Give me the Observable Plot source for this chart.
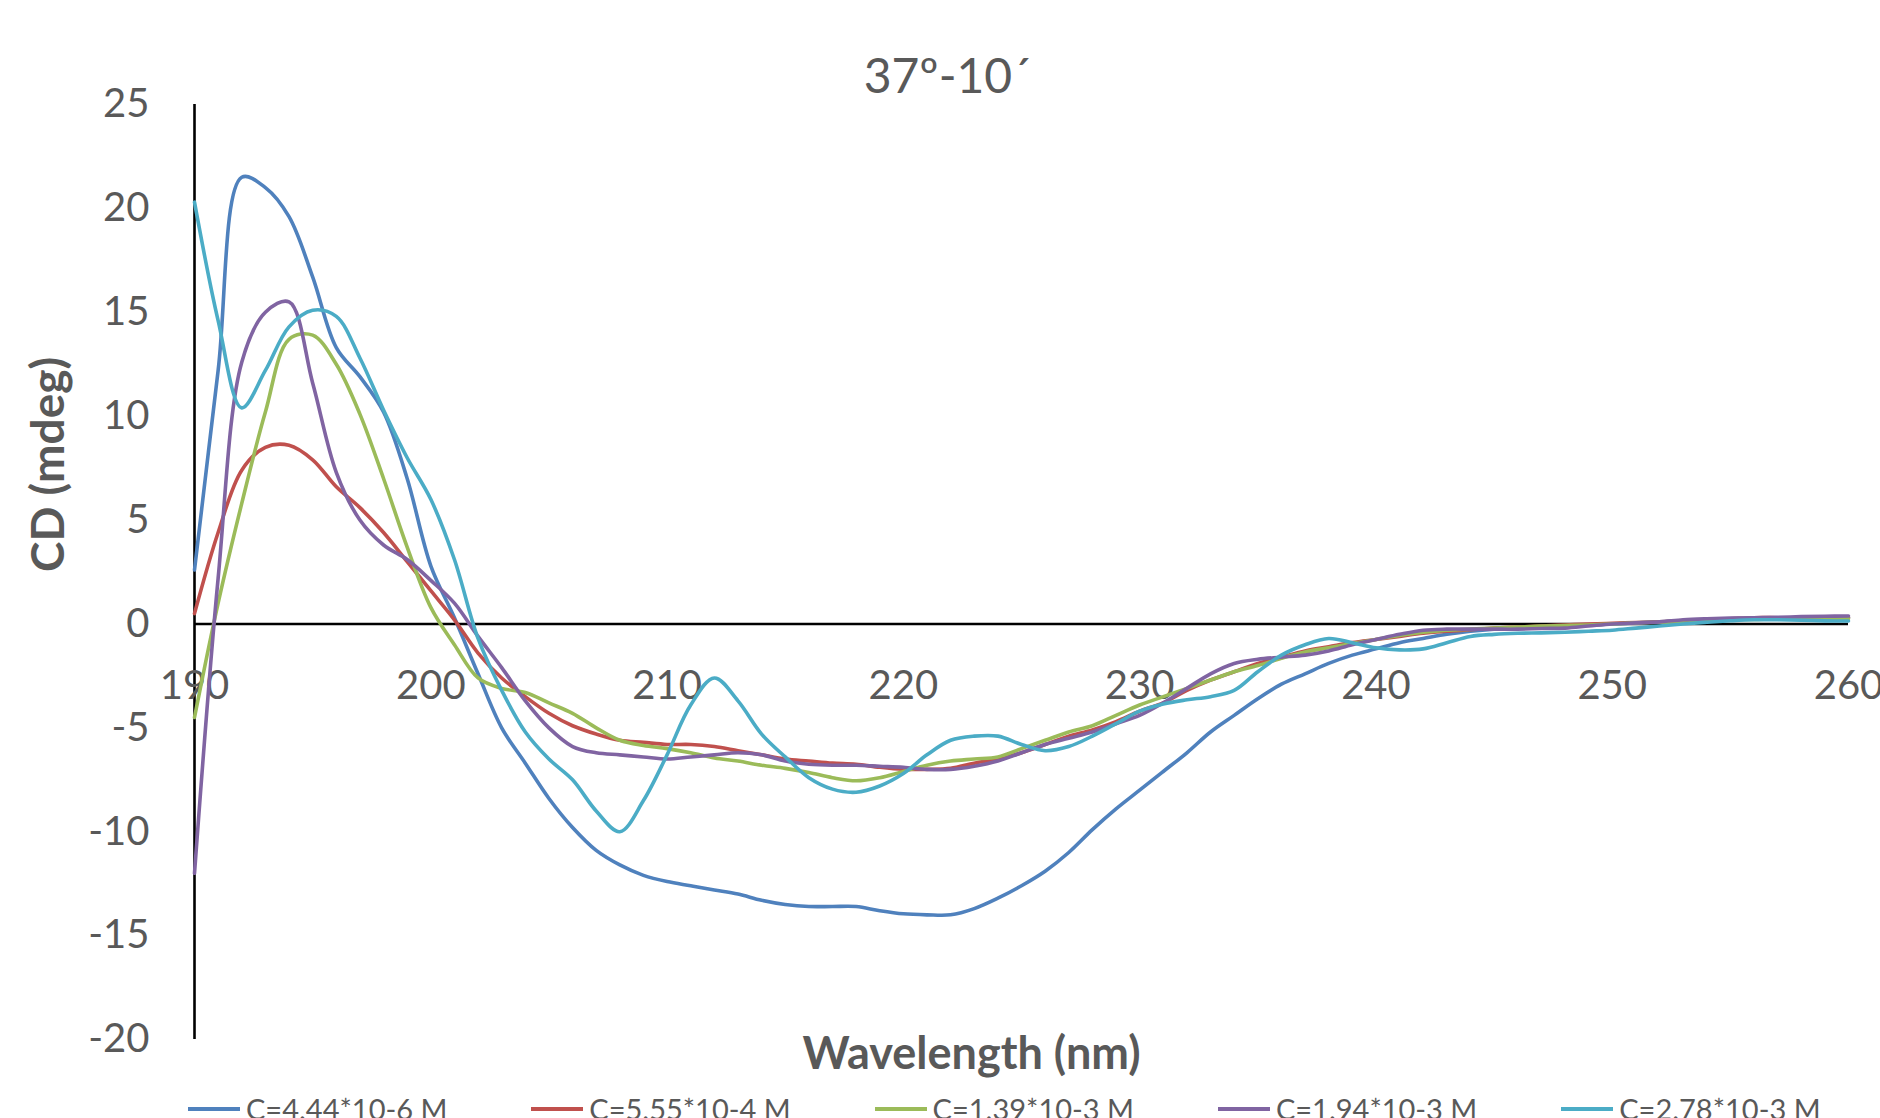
<!DOCTYPE html>
<html><head><meta charset="utf-8">
<script src="https://cdn.jsdelivr.net/npm/d3@7"></script>
<script src="https://cdn.jsdelivr.net/npm/@observablehq/plot@0.6"></script>
<style>
html,body{margin:0;padding:0;background:#fff;}
#wrap{position:relative;width:1880px;height:1118px;overflow:hidden;font-family:Lato,'Open Sans',sans-serif;color:#595959;background:#fff;}
#chart{position:absolute;left:0;top:0;}
#legend{position:absolute;left:0;top:1094px;height:30px;width:1880px;}
.item{position:absolute;top:0;height:29px;display:flex;align-items:center;white-space:nowrap;font-size:29px;line-height:29px;}
.sw{width:52px;height:4px;margin-right:6px;flex:none;}
</style></head>
<body><div id="wrap"><div id="chart"></div><div id="legend"></div></div>
<script>
const chartTitle = "37º-10´";
const xTitle = "Wavelength (nm)";
const yTitle = "CD (mdeg)";
const xTicks = [190, 200, 210, 220, 230, 240, 250, 260];
const yTicks = [-20, -15, -10, -5, 0, 5, 10, 15, 20, 25];
const seriesNames = ["C=4.44*10-6 M", "C=5.55*10-4 M", "C=1.39*10-3 M", "C=1.94*10-3 M", "C=2.78*10-3 M"];
const seriesColors = ["#4F81BD", "#C0504D", "#9BBB59", "#8064A2", "#4BACC6"];

const wavelengths = [190,191,192,193,194,195,196,197,198,199,200,
  201,202,203,204,205,206,207,208,209,210,
  211,212,213,214,215,216,217,218,219,220,
  221,222,223,224,225,226,227,228,229,230,
  231,232,233,234,235,236,237,238,239,240,
  241,242,243,244,245,246,247,248,249,250,
  251,252,253,254,255,256,257,258,259,260];

const cdA = [2.6,12.2,21.5,21.0,19.6,16.7,13.3,11.9,10.2,7.0,2.8,
  0.3,-2.4,-5.0,-6.7,-8.4,-9.8,-10.9,-11.6,-12.1,-12.4,
  -12.6,-12.8,-13.0,-13.3,-13.5,-13.6,-13.6,-13.6,-13.8,-13.95,
  -14.0,-14.0,-13.7,-13.2,-12.6,-11.9,-11.0,-9.9,-8.9,-8.0,
  -7.1,-6.2,-5.2,-4.4,-3.6,-2.9,-2.4,-1.9,-1.5,-1.2,
  -0.9,-0.7,-0.5,-0.35,-0.25,-0.2,-0.15,-0.1,-0.05,0,
  0.05,0.1,0.15,0.2,0.2,0.25,0.25,0.3,0.3,0.3];

const cdB = [0.5,4.4,7.4,8.5,8.6,7.9,6.6,5.6,4.4,3.0,1.6,
  0.2,-1.4,-2.6,-3.5,-4.3,-4.9,-5.3,-5.6,-5.7,-5.8,
  -5.8,-5.9,-6.1,-6.3,-6.5,-6.6,-6.7,-6.75,-6.9,-7.0,
  -7.0,-6.95,-6.7,-6.5,-6.2,-5.8,-5.4,-5.1,-4.7,-4.2,
  -3.8,-3.2,-2.7,-2.3,-1.9,-1.6,-1.3,-1.1,-0.9,-0.75,
  -0.6,-0.45,-0.35,-0.28,-0.2,-0.15,-0.1,-0.05,0,0.03,
  0.07,0.1,0.15,0.2,0.25,0.3,0.3,0.3,0.3,0.3];

const cdC = [-4.5,1.0,5.8,10.2,13.7,13.9,12.5,10.1,7.0,3.7,0.8,
  -1.0,-2.6,-3.1,-3.3,-3.8,-4.3,-5.0,-5.6,-5.85,-6.0,
  -6.2,-6.45,-6.6,-6.8,-6.95,-7.15,-7.4,-7.55,-7.4,-7.1,
  -6.8,-6.6,-6.5,-6.4,-6.0,-5.6,-5.2,-4.9,-4.4,-3.9,
  -3.5,-3.1,-2.7,-2.3,-2.0,-1.65,-1.35,-1.15,-0.95,-0.75,
  -0.55,-0.4,-0.3,-0.25,-0.2,-0.15,-0.1,-0.08,-0.05,0,
  0.05,0.08,0.1,0.15,0.2,0.22,0.25,0.25,0.25,0.25];

const cdD = [-12.0,2.2,12.6,15.0,15.5,11.6,7.3,5.0,3.8,3.1,2.1,
  1.0,-0.6,-2.1,-3.7,-5.0,-5.9,-6.2,-6.3,-6.4,-6.5,
  -6.4,-6.3,-6.2,-6.3,-6.6,-6.75,-6.8,-6.8,-6.85,-6.9,
  -7.0,-7.0,-6.85,-6.6,-6.2,-5.8,-5.5,-5.2,-4.8,-4.4,
  -3.8,-3.1,-2.4,-1.9,-1.7,-1.6,-1.5,-1.3,-1.0,-0.75,
  -0.5,-0.3,-0.25,-0.25,-0.25,-0.25,-0.22,-0.2,-0.1,0,
  0.05,0.1,0.2,0.25,0.28,0.3,0.32,0.35,0.37,0.38];

const cdE = [20.3,14.6,10.4,12.2,14.3,15.1,14.8,12.8,10.3,8.0,6.0,
  3.1,-0.7,-3.2,-5.2,-6.5,-7.5,-9.0,-10.0,-8.5,-6.3,
  -3.9,-2.6,-3.7,-5.3,-6.4,-7.4,-7.95,-8.1,-7.8,-7.2,
  -6.3,-5.6,-5.4,-5.4,-5.8,-6.1,-5.9,-5.4,-4.8,-4.2,
  -3.85,-3.65,-3.5,-3.2,-2.3,-1.5,-1.0,-0.7,-0.9,-1.15,
  -1.25,-1.2,-0.9,-0.6,-0.5,-0.45,-0.43,-0.4,-0.35,-0.3,
  -0.2,-0.1,0,0.08,0.15,0.2,0.2,0.18,0.15,0.14];

const seriesValues = [cdA, cdB, cdC, cdD, cdE];

const rows = [];
seriesValues.forEach((vals, si) => {
  vals.forEach((v, i) => rows.push({wl: wavelengths[i], cd: v, series: seriesNames[si]}));
});

const textColor = "#595959";

const plot = Plot.plot({
  width: 1880,
  height: 1118,
  marginLeft: 194,
  marginRight: 32,
  marginTop: 104,
  marginBottom: 79,
  style: {fontFamily: "Lato, 'Open Sans', sans-serif", fontSize: "40px", color: textColor, background: "#fff"},
  x: {domain: [190, 260], axis: null},
  y: {domain: [-20, 25], axis: null},
  color: {domain: seriesNames, range: seriesColors},
  marks: [
    Plot.ruleX([190], {y1: -20, y2: 25, stroke: "#000", strokeWidth: 2.6}),
    Plot.ruleY([0], {x1: 190, x2: 260, stroke: "#000", strokeWidth: 2.4}),
    Plot.axisY({ticks: yTicks, tickSize: 0, tickPadding: 45, tickFormat: d => String(d), label: null, fontSize: 40, fill: textColor}),
    Plot.text(xTicks, {x: d => d, y: 0, text: d => String(d), dy: 62, lineAnchor: "middle", textAnchor: "middle", fontSize: 40, fill: textColor}),
    Plot.line(rows, {x: "wl", y: "cd", stroke: "series", z: "series", curve: "catmull-rom", strokeWidth: 3.6, strokeLinejoin: "round", strokeLinecap: "round"}),
    Plot.text([chartTitle], {frameAnchor: "top", dx: -74, dy: -12, lineAnchor: "bottom", fontSize: 48, fill: textColor}),
    Plot.text([xTitle], {frameAnchor: "bottom", dx: -50, dy: 15, lineAnchor: "middle", fontSize: 45, fontWeight: "bold", fill: textColor}),
    Plot.text([yTitle], {frameAnchor: "left", dx: -145, rotate: -90, lineAnchor: "middle", fontSize: 46, fontWeight: "bold", fill: textColor})
  ]
});
document.getElementById("chart").appendChild(plot);

const legend = document.getElementById("legend");
seriesNames.forEach((name, i) => {
  const item = document.createElement("div");
  item.className = "item";
  item.style.left = (188 + i * 343.3) + "px";
  const sw = document.createElement("div");
  sw.className = "sw";
  sw.style.background = seriesColors[i];
  const label = document.createElement("span");
  label.textContent = name;
  item.appendChild(sw);
  item.appendChild(label);
  legend.appendChild(item);
});
</script>
</body></html>
